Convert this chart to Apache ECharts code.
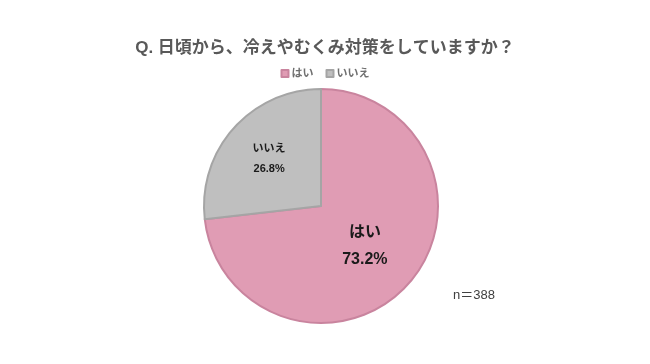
<!DOCTYPE html>
<html><head><meta charset="utf-8">
<script src="https://cdn.jsdelivr.net/npm/echarts@6/dist/echarts.min.js"></script>
<style>html,body{margin:0;padding:0;background:#fff}#c{width:650px;height:364px}</style>
</head><body><div id="c"></div>
<script>
const titleText = 'Q. 日頃から、冷えやむくみ対策をしていますか？';
const categories = ['はい', 'いいえ'];
const values = [73.2, 26.8];
const noteText = 'n＝388';

const colors = ['#e09cb4', '#bfbfbf'];
const borders = ['#c9849e', '#a5a5a5'];
const labelSizes = [16, 11];
const labelOffsets = [[-2, -1], [-6, -6]];
const FONT = '"Liberation Sans", "Noto Sans CJK JP", sans-serif';

const chart = echarts.init(document.getElementById('c'), null, {renderer: 'canvas'});
chart.setOption({
  backgroundColor: '#fff',
  animation: false,
  title: {
    text: titleText, left: 'center', top: 35,
    textStyle: {fontFamily: FONT, fontSize: 17, fontWeight: 'bold', color: '#595959'}
  },
  legend: {
    top: 63, left: 'center', itemWidth: 7, itemHeight: 7, itemGap: 12, icon: 'rect',
    textStyle: {fontFamily: FONT, fontSize: 11, fontWeight: 'bold', color: '#6f6f6f', padding: [0,0,0,-2]},
    data: categories
  },
  graphic: [{
    type: 'text', left: 453, top: 289,
    style: {text: noteText, fontFamily: FONT, fontSize: 13, fill: '#404040'}
  }],
  series: [{
    type: 'pie',
    center: [321, 206],
    radius: [0, 117],
    startAngle: 90,
    clockwise: true,
    label: {show: true, position: 'inside', formatter: '{b}\n{c}%', fontFamily: FONT, fontWeight: 'bold', color: '#1a1a1a'},
    labelLine: {show: false},
    emphasis: {disabled: true},
    labelLayout: function (p) {
      const o = labelOffsets[p.dataIndex];
      return {dx: o[0], dy: o[1]};
    },
    data: categories.map((c, i) => ({
      name: c, value: values[i],
      itemStyle: {color: colors[i], borderColor: borders[i], borderWidth: 2},
      label: {fontSize: labelSizes[i], lineHeight: labelSizes[i] * (i === 0 ? 1.7 : 1.75)}
    }))
  }]
});
</script></body></html>
